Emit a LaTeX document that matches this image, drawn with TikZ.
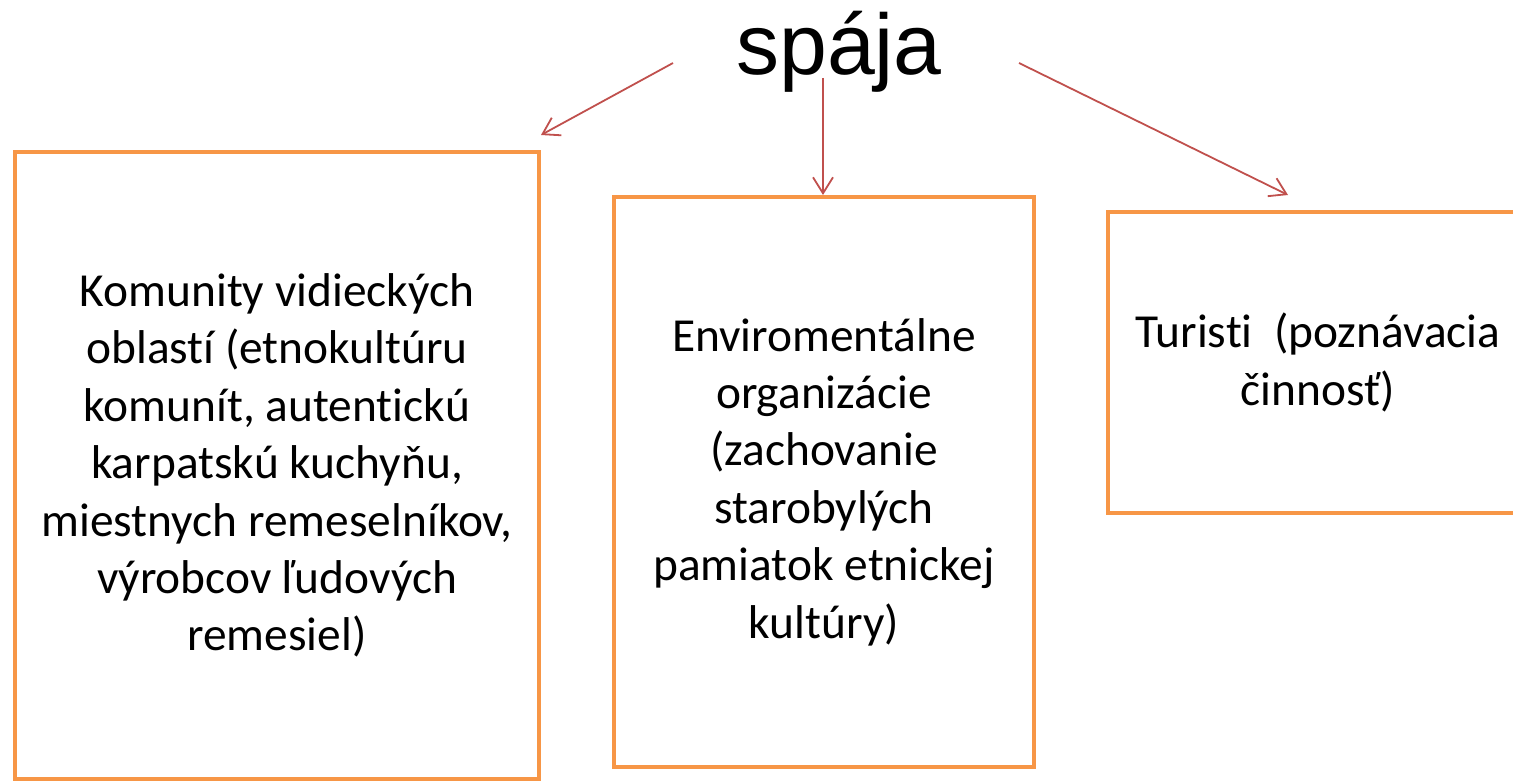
\documentclass[tikz,border=0pt]{standalone}
\usepackage{fontspec}
\setmainfont[Ligatures={NoCommon,NoContextual}]{Carlito}
\newfontfamily\arialfont{Liberation Sans}
\usetikzlibrary{arrows.meta}
\definecolor{boxorange}{HTML}{F79646}
\definecolor{arrowred}{HTML}{C0504D}
\tikzset{
  partner/.style={draw=boxorange, line width=2pt, align=center, inner sep=0pt,
    font=\fontsize{23.7}{28.7}\selectfont},
  link/.style={draw=arrowred, line width=0.9pt, -{Straight Barb[length=8pt,width=10pt]}}
}
\begin{document}
\begin{tikzpicture}[x=0.5pt, y=-0.5pt]
        \useasboundingbox (0,0) rectangle (1513,781);
        \clip (0,0) rectangle (1513,781);

        % Title
        \node[anchor=base, inner sep=0pt, font=\arialfont\fontsize{43}{50}\selectfont] (spaja) at (839,75) {spája};

        % Boxes
        \node[partner, minimum width=262pt, minimum height=313.5pt] (komunity) at (277,465.5)
          {Komunity vidieckých\\oblastí (etnokultúru\\komunít, autentickú\\karpatskú kuchyňu,\\miestnych remeselníkov,\\výrobcov ľudových\\remesiel)};
        \node[partner, minimum width=210pt, minimum height=285pt] (organizacie) at (824,482)
          {Enviromentálne\\organizácie\\(zachovanie\\starobylých\\pamiatok etnickej\\kultúry)};
        \node[partner, minimum width=210pt, minimum height=150.5pt] (turisti) at (1318,362.5)
          {Turisti\ \ (poznávacia\\činnosť)};

        % Arrows
        \coordinate (fromL) at (673,63);
        \coordinate (fromM) at (823,78);
        \coordinate (fromR) at (1019,63);
        \draw[link] (fromL) -- ([yshift=7.5pt]komunity.north east);
        \draw[link] (fromM) -- (fromM |- organizacie.north);
        \draw[link] (fromR) -- ([xshift=-15pt,yshift=7.5pt]turisti.north);
\end{tikzpicture}
\end{document}
